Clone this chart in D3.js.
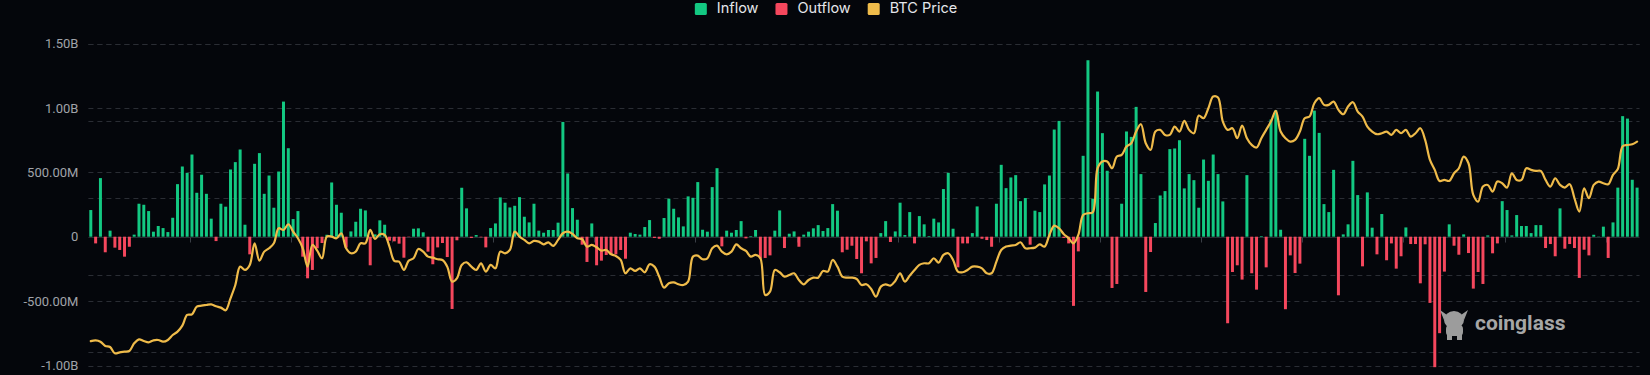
<!DOCTYPE html>
<html>
<head>
<meta charset="utf-8">
<script src="https://cdn.jsdelivr.net/npm/d3@7"></script>
<style>
  html, body { margin: 0; padding: 0; background: #04060b; }
  svg { display: block; }
</style>
</head>
<body>
<svg id="chart" width="1650" height="375"></svg>
<script>
// ---------------- DATA (net flows in USD millions, BTC price in USD) ----------------
const seriesNames = ["Inflow", "Outflow", "BTC Price"];
const leftTicks = [-1000, -500, 0, 500, 1000, 1500];
const leftTickLabels = ["-1.00B", "-500.00M", "0", "500.00M", "1.00B", "1.50B"];
const priceTicks = [40000, 60000, 80000, 100000, 120000];

const flowsA = [
  207,-52,455,-121,47,-85,-103,-155,-78,16,
  256,248,199,39,83,67,36,147,408,545,
  496,638,341,481,333,140,-34,256,233,522,
  579,677,93,-137,566,649,333,475,225,506,
  1049,687,137,199,-155,-323,-258,-90,-49,15,
  421,248,186,-85,41,116,217,204,-222,18,
  127,93,-31,-36,-54,-163,-3,62,65,34,
  -116,-214,-83,-49,-158,-561,-28,380,220,-10,
  13,-5,-83,67,103,305,264,227,240,307,
  155,111,256,47,31,52,52,109,891,491,
  222,132,-62,-196,103
];
const flowsB = [
  -222,-186,-142,-140,-137,-103,-171,31,21,16,
  75,129,-10,-16,145,295,217,150,80,313,
  302,424,54,39,385,532,-75,47,31,52,
  121,-13,5,52,-171,-165,-145,47,204,-88,
  23,41,-78,16,39,65,90,44,67,253,
  202,-121,-101,-70,-173,-284,-36,-207,-165,28,
  121,-41,41,264,13,191,-52,160,96,5,
  140,111,370,496,62,-238,-52,-52,28,235,
  -16,-26,-78,256,558,377,460,478,276,300,
  -62,202,191,406,475,832,899,-10,-52,-537,
  -114,628,1370,295,1127,804
];
const flowsC = [
  512,-398,-367,256,817,775,1008,486,-429,-119,
  106,320,354,680,685,749,375,486,439,225,
  599,434,638,486,274,-672,-274,-222,-333,478,
  -284,-411,5,-238,910,982,54,-563,-145,-282,
  -209,760,628,979,806,253,191,519,-455,18,
  96,589,323,-230,344,70,-137,176,-183,-52,
  -248,-152,72,-57,-57,-362,-59,-514,-1013,-749,
  -271,96,-70,-140,18,-127,-403,-274,-367,10,
  -129,-52,276,207,10,168,83,83,28,90,
  90,-88,-57,-152,220,-93,-57,-88,-320,-101,
  -145,15,2,78,-165,111,381,936,917,442,381
];

const priceA = [
  42900,43100,42750,41630,41370,39730,39990,40160,40340,42320,
  43360,42930,42580,43100,43190,42750,43190,44480,45350,46900,
  49670,49840,51830,52090,52260,52430,51920,51570,50880,53990,
  57440,62190,61330,62630,68240,63750,66080,66950,68240,72130,
  71700,73170,71270,69540,66950,62190,67810,66340,64360,69970,
  69970,69540,70840,66950,65650,66080,68240,68240,71700,69370,
  70580,70410,67380,63670,63490,61330,63750,64360,66780,66080,
  64790,64530,64100,63920,62190,58310,59170,62630,63320,62190,
  61330,63060,60900,62630,61760,66080,65650,66510,71270,69970,
  69110,68240,68850,68670,67980,68500,67550,69110,70840,71270,
  70660,69540,69280,67380,67810
];
const priceB = [
  67210,66340,66510,65390,64960,63920,60470,61760,61070,61760,
  60730,62800,62190,59600,56750,57880,58130,57620,57440,58310,
  64790,65050,64100,64360,66950,67640,66080,65390,66080,67980,
  66950,66260,64790,65220,64360,54850,55720,61330,60730,59600,
  60040,60470,58740,57620,58740,59340,59340,61070,60900,63920,
  62190,59600,59340,59340,58990,57440,57620,56410,54420,57010,
  57620,57270,58480,60470,58310,59860,61330,62630,63060,63060,
  64360,63230,65220,65650,63920,60900,60730,61330,62190,62190,
  61760,60470,60470,63490,66510,67380,67640,67810,68500,66950,
  66950,67120,67980,67380,70410,72820,72130,70580,69540,68240,
  70410,75590,76020,76280,87680,89410
];
const priceC = [
  89410,87680,90710,91140,93300,94160,97190,99090,94160,92440,
  97190,97620,96320,96320,98480,97190,99950,97620,96750,101330,
  100640,103240,106260,106000,99780,97620,98050,95460,98740,95460,
  93730,93040,95460,97620,99780,102550,97190,95460,94600,95030,
  97190,100640,101070,104530,105830,104100,104100,104960,102800,101680,
  103670,104790,102370,101070,98480,97190,96500,96750,97190,96320,
  97620,96750,97620,95890,96750,98050,95030,89840,87250,84400,
  84660,84400,86390,87680,90710,88980,80770,79040,82930,83360,
  81630,84230,83800,82670,86390,84660,84660,87680,87250,86990,
  86990,84660,82930,85090,83360,82670,83540,79910,76450,82500,
  79910,83360,84230,83800,83540,85960,87500,93400,93700,93900,94600
];

const flows = flowsA.concat(flowsB, flowsC);
const prices = priceA.concat(priceB, priceC);
const days = flows.map((_, i) => i);

// ---------------- STYLE ----------------
const GREEN = "#13c882", RED = "#f5475d", GOLD = "#efbb4a";
const GRID = "#2a2d34", LABEL = "#a0a3a9";

const svg = d3.select("#chart");
const plot = { left: 88.4, right: 1639.5, top: 43.5, bottom: 365.5 };

const x = d3.scaleBand().domain(days).range([plot.left, plot.right])
  .paddingInner(0.38).paddingOuter(0.19);
const y = d3.scaleLinear().domain([-1000, 1500]).range([plot.bottom, plot.top]);
const yP = d3.scaleLinear().domain([40000, 120000]).range([352.3, plot.top]);

// grid lines (left axis)
const gGrid = svg.append("g");
gGrid.selectAll("line.l").data(leftTicks.filter(t => t !== 0)).join("line")
  .attr("x1", plot.left).attr("x2", plot.right)
  .attr("y1", d => Math.round(y(d)) + 0.5).attr("y2", d => Math.round(y(d)) + 0.5)
  .attr("stroke", GRID).attr("stroke-width", 1).attr("stroke-dasharray", "5,4");
// grid lines (right / price axis, labels hidden)
gGrid.selectAll("line.r").data(priceTicks).join("line")
  .attr("x1", plot.left).attr("x2", plot.right)
  .attr("y1", d => Math.round(yP(d)) + 0.5).attr("y2", d => Math.round(yP(d)) + 0.5)
  .attr("stroke", GRID).attr("stroke-width", 1).attr("stroke-dasharray", "5,4");

// left axis labels
const yAxis = d3.axisLeft(y).tickValues(leftTicks)
  .tickFormat(d => leftTickLabels[leftTicks.indexOf(d)]).tickSize(0).tickPadding(10);
const gy = svg.append("g").attr("transform", `translate(${plot.left},0)`).call(yAxis);
gy.select(".domain").remove();
gy.selectAll("text").attr("fill", LABEL).style("font-family", "Roboto, 'Liberation Sans', sans-serif")
  .style("font-size", "13px");

// zero axis line with ticks
const zeroY = Math.round(y(0)) + 0.5;
svg.append("line").attr("x1", plot.left).attr("x2", plot.right)
  .attr("y1", zeroY).attr("y2", zeroY).attr("stroke", GRID).attr("stroke-width", 1);
const tickIdx = days.filter(i => i > 0 && i % 21 === 0);
svg.append("g").selectAll("line").data(tickIdx).join("line")
  .attr("x1", d => Math.round(x(d) - x.step() * x.paddingInner() / 2) + 0.5)
  .attr("x2", d => Math.round(x(d) - x.step() * x.paddingInner() / 2) + 0.5)
  .attr("y1", zeroY).attr("y2", zeroY + 5)
  .attr("stroke", "#3a3e46").attr("stroke-width", 1);

// bars
svg.append("g").selectAll("rect").data(flows).join("rect")
  .attr("x", (d, i) => x(i))
  .attr("width", x.bandwidth())
  .attr("y", d => d >= 0 ? y(d) : y(0))
  .attr("height", d => Math.abs(y(d) - y(0)))
  .attr("fill", d => d >= 0 ? GREEN : RED);

// price line
const line = d3.line()
  .x((d, i) => x(i) + x.bandwidth() / 2)
  .y(d => yP(d))
  .curve(d3.curveCatmullRom.alpha(0.5));
svg.append("path").datum(prices).attr("d", line)
  .attr("fill", "none").attr("stroke", GOLD).attr("stroke-width", 2.2)
  .attr("stroke-linejoin", "round").attr("stroke-linecap", "round");

// legend
const legendColors = [GREEN, RED, GOLD];
const lg = svg.append("g");
let cx = 0;
seriesNames.forEach((name, i) => {
  const g = lg.append("g");
  g.append("rect").attr("x", 0).attr("y", 3).attr("width", 12).attr("height", 12)
    .attr("rx", 1.5).attr("fill", legendColors[i]);
  const t = g.append("text").attr("x", 22).attr("y", 9.5).attr("dominant-baseline", "middle")
    .attr("fill", "#e4e6ea").style("font-family", "Inter, 'Liberation Sans', sans-serif")
    .style("font-size", "14.5px").text(name);
  const w = 22 + t.node().getComputedTextLength();
  g.attr("transform", `translate(${cx},0)`);
  cx += w + 17;
});
const totalW = cx - 17;
lg.attr("transform", `translate(${826 - totalW / 2},0)`);

// watermark
const wm = svg.append("g").attr("fill", "#9c9c9c");
wm.append("ellipse").attr("cx", 1454).attr("cy", 320).attr("rx", 10).attr("ry", 9);
wm.append("path").attr("d", "M1440,310 L1447,315 L1444,320 Z M1468,310 L1461,315 L1464,320 Z");
wm.append("rect").attr("x", 1446).attr("y", 325).attr("width", 17).attr("height", 11).attr("rx", 4);
wm.append("rect").attr("x", 1447).attr("y", 333).attr("width", 5).attr("height", 7);
wm.append("rect").attr("x", 1457).attr("y", 333).attr("width", 5).attr("height", 7);
wm.append("text").attr("x", 1475).attr("y", 330)
  .style("font-family", "Roboto, 'Open Sans', sans-serif").style("font-weight", "700")
  .style("font-size", "21px").attr("fill", "#a6a6a6").text("coinglass");
</script>
</body>
</html>
